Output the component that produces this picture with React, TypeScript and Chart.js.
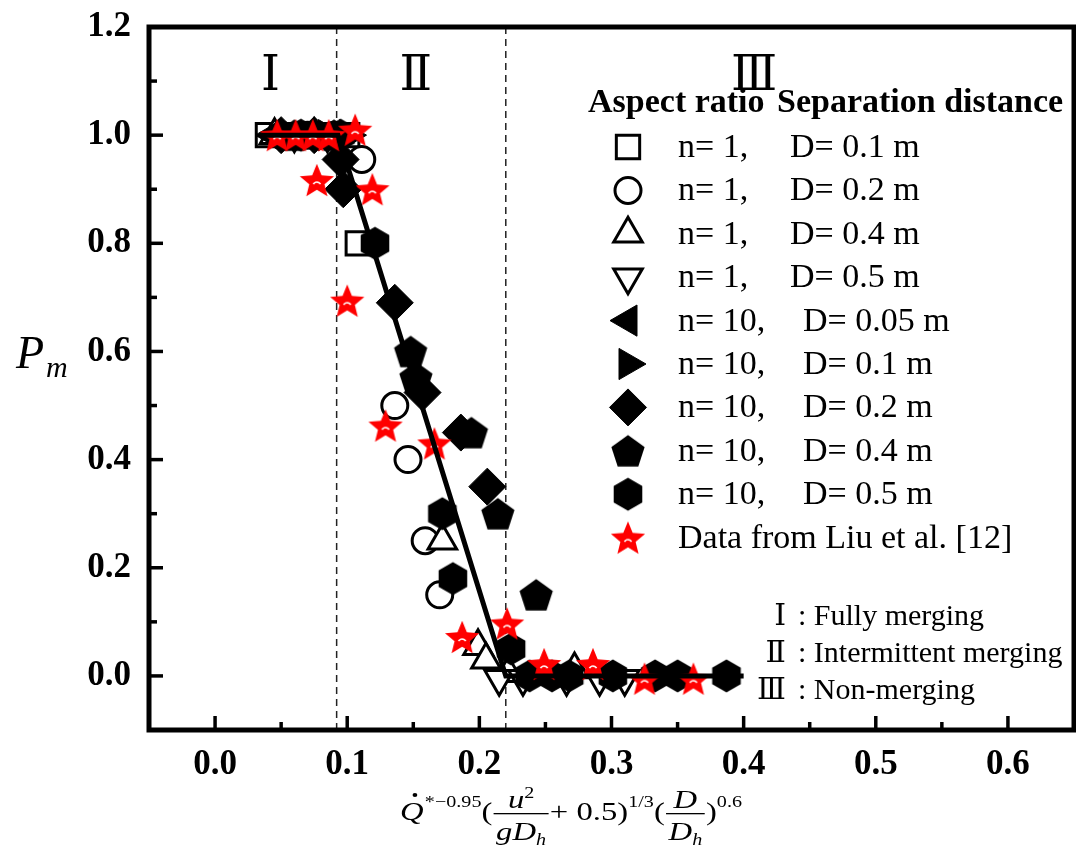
import React, { useEffect, useRef } from 'react';
import { Chart, registerables } from 'chart.js';
import { drawPoint } from 'chart.js/helpers';

Chart.register(...registerables);

const SERIF = "'Liberation Serif', 'Times New Roman', serif";
const NUMERAL_FONT = "'Liberation Serif', 'DejaVu Serif', serif";

// ---------- axis ticks ----------
const xMajorTicks = [0, 0.1, 0.2, 0.3, 0.4, 0.5, 0.6];
const xMinorTicks = [0.05, 0.15, 0.25, 0.35, 0.45, 0.55];
const yMajorTicks = [0, 0.2, 0.4, 0.6, 0.8, 1.0, 1.2];
const yMinorTicks = [0.1, 0.3, 0.5, 0.7, 0.9, 1.1];

// ---------- regime boundaries and labels ----------
const regionBoundaries = [0.092, 0.22];
const regionLabels = ['Ⅰ', 'Ⅱ', 'Ⅲ'];
const regionLabelX = [0.042, 0.152, 0.408];
const regionNotes = [': Fully merging', ': Intermittent merging', ': Non-merging'];

// ---------- series (x, Pm) ----------
// n = 1, D = 0.1 m (open square)
const sqX = [0.04, 0.06, 0.08, 0.1, 0.108];
const sqY = [1, 1, 1, 1, 0.8];
// n = 1, D = 0.2 m (open circle)
const ciX = [0.05, 0.07, 0.09, 0.111, 0.136, 0.146, 0.159, 0.17];
const ciY = [1, 1, 1, 0.955, 0.5, 0.4, 0.25, 0.15];
// n = 1, D = 0.4 m (open up-triangle)
const upX = [0.045, 0.075, 0.172, 0.199, 0.205, 0.222, 0.272];
const upY = [1, 1, 0.25, 0.055, 0.03, 0.005, 0.012];
// n = 1, D = 0.5 m (open down-triangle)
const dnX = [0.06, 0.085, 0.215, 0.233, 0.266, 0.291, 0.31];
const dnY = [1, 1, -0.005, -0.005, -0.005, -0.005, -0.005];
// n = 10, D = 0.05 m (left triangle)
const ltX = [0.044, 0.07];
const ltY = [1, 1];
// n = 10, D = 0.1 m (right triangle)
const rtX = [0.055, 0.085, 0.101];
const rtY = [1, 1, 1];
// n = 10, D = 0.2 m (diamond)
const dmX = [0.05, 0.075, 0.095, 0.097, 0.136, 0.157, 0.186, 0.206];
const dmY = [1, 1, 0.955, 0.9, 0.69, 0.524, 0.45, 0.35];
// n = 10, D = 0.4 m (pentagon)
const pgX = [0.06, 0.09, 0.148, 0.152, 0.194, 0.214, 0.243];
const pgY = [1, 1, 0.6, 0.552, 0.45, 0.3, 0.15];
// n = 10, D = 0.5 m (hexagon)
const hxX = [0.065, 0.095, 0.121, 0.172, 0.18, 0.224, 0.238, 0.255, 0.268, 0.301, 0.333, 0.35, 0.387];
const hxY = [1, 1, 0.8, 0.3, 0.18, 0.05, 0, 0, 0, 0, 0, 0, 0];
// Data from Liu et al. [12] (red star)
const liuX = [0.047, 0.061, 0.074, 0.086, 0.106, 0.077, 0.119, 0.1, 0.129, 0.166, 0.187, 0.221, 0.249, 0.286, 0.325, 0.362];
const liuY = [1, 1, 1, 1, 1.01, 0.917, 0.9, 0.694, 0.463, 0.43, 0.072, 0.097, 0.022, 0.022, -0.005, -0.005];
// piecewise fit
const fitX = [0.035, 0.093, 0.22, 0.4];
const fitY = [1, 1, 0, 0];

// legend texts
const legendAspect = ['n= 1,', 'n= 1,', 'n= 1,', 'n= 1,', 'n= 10,', 'n= 10,', 'n= 10,', 'n= 10,', 'n= 10,'];
const legendDist = ['D= 0.1 m', 'D= 0.2 m', 'D= 0.4 m', 'D= 0.5 m', 'D= 0.05 m', 'D= 0.1 m', 'D= 0.2 m', 'D= 0.4 m', 'D= 0.5 m'];
const legendLiu = 'Data from Liu et al. [12]';

function makeShape(kind: string): HTMLCanvasElement {
  const S = 44;
  const c = document.createElement('canvas');
  c.width = S;
  c.height = S;
  const g = c.getContext('2d') as CanvasRenderingContext2D;
  const cx = S / 2;
  const cy = S / 2;
  g.beginPath();
  if (kind === 'pentagon') {
    const R = 17.5;
    const off = (R * (1 - Math.cos(Math.PI / 5))) / 2;
    for (let i = 0; i < 5; i++) {
      const a = -Math.PI / 2 + (i * 2 * Math.PI) / 5;
      const px = cx + R * Math.cos(a);
      const py = cy + off + R * Math.sin(a);
      if (i === 0) g.moveTo(px, py);
      else g.lineTo(px, py);
    }
    g.fillStyle = '#000';
  } else if (kind === 'hexagon') {
    const R = 16.5;
    for (let i = 0; i < 6; i++) {
      const a = -Math.PI / 2 + (i * Math.PI) / 3;
      const px = cx + R * Math.cos(a);
      const py = cy + R * Math.sin(a);
      if (i === 0) g.moveTo(px, py);
      else g.lineTo(px, py);
    }
    g.fillStyle = '#000';
  } else {
    const R = 18;
    const r = 8;
    const off = (R * (1 - Math.cos(Math.PI / 5))) / 2;
    for (let i = 0; i < 10; i++) {
      const a = -Math.PI / 2 + (i * Math.PI) / 5;
      const rad = i % 2 === 0 ? R : r;
      const px = cx + rad * Math.cos(a);
      const py = cy + off + rad * Math.sin(a);
      if (i === 0) g.moveTo(px, py);
      else g.lineTo(px, py);
    }
    g.fillStyle = '#ff0000';
  }
  g.closePath();
  g.fill();
  if (kind === 'star') {
    g.strokeStyle = '#fff';
    g.lineWidth = 1.6;
    g.beginPath();
    g.arc(cx, cy + 6, 4, Math.PI * 1.15, Math.PI * 1.85);
    g.stroke();
  }
  return c;
}

function drawFormula(ctx: CanvasRenderingContext2D, left: number, targetW: number, B: number) {
  const fI = `italic 26px ${SERIF}`;
  const fR = `26px ${SERIF}`;
  const fS = `16px ${SERIF}`;
  const fSI = `italic 16px ${SERIF}`;
  type Run = { t: string; f: string; dy: number; gap?: number };
  const w = (r: Run[]) => {
    let s = 0;
    r.forEach((p) => {
      ctx.font = p.f;
      s += ctx.measureText(p.t).width + (p.gap || 0);
    });
    return s;
  };
  const drawRun = (r: Run[], x: number, y: number) => {
    let cx = x;
    r.forEach((p) => {
      ctx.font = p.f;
      ctx.fillText(p.t, cx, y + p.dy);
      cx += ctx.measureText(p.t).width + (p.gap || 0);
    });
  };
  type Item = { kind: 'run'; run: Run[] } | { kind: 'frac'; num: Run[]; den: Run[] } | { kind: 'Q' };
  const items: Item[] = [
    { kind: 'Q' },
    { kind: 'run', run: [{ t: '*−0.95', f: fS, dy: -13 }] },
    { kind: 'run', run: [{ t: '(', f: fR, dy: 0 }] },
    {
      kind: 'frac',
      num: [
        { t: 'u', f: fI, dy: 0 },
        { t: '2', f: fS, dy: -10 },
      ],
      den: [
        { t: 'g', f: fI, dy: 0 },
        { t: 'D', f: fI, dy: 0 },
        { t: 'h', f: fSI, dy: 5 },
      ],
    },
    { kind: 'run', run: [{ t: '+ 0.5)', f: fR, dy: 0 }] },
    { kind: 'run', run: [{ t: '1/3', f: fS, dy: -13 }] },
    { kind: 'run', run: [{ t: '(', f: fR, dy: 0 }] },
    {
      kind: 'frac',
      num: [{ t: 'D', f: fI, dy: 0 }],
      den: [
        { t: 'D', f: fI, dy: 0 },
        { t: 'h', f: fSI, dy: 5 },
      ],
    },
    { kind: 'run', run: [{ t: ')', f: fR, dy: 0 }] },
    { kind: 'run', run: [{ t: '0.6', f: fS, dy: -13 }] },
  ];
  const widths = items.map((it) => {
    if (it.kind === 'Q') {
      ctx.font = fI;
      return ctx.measureText('Q').width + 1;
    }
    if (it.kind === 'run') return w(it.run);
    return Math.max(w(it.num), w(it.den)) + 6;
  });
  const total = widths.reduce((a, b) => a + b, 0);
  ctx.save();
  ctx.translate(left, 0);
  ctx.scale(targetW / total, 1);
  ctx.textAlign = 'left';
  ctx.textBaseline = 'alphabetic';
  let x = 0;
  items.forEach((it, i) => {
    const iw = widths[i];
    if (it.kind === 'Q') {
      ctx.font = fI;
      ctx.fillText('Q', x, B);
      ctx.beginPath();
      ctx.arc(x + iw / 2 + 2, B - 25, 1.9, 0, Math.PI * 2);
      ctx.fill();
    } else if (it.kind === 'run') {
      drawRun(it.run, x, B);
    } else {
      const nw = w(it.num);
      const dw = w(it.den);
      drawRun(it.num, x + (iw - nw) / 2, B - 12);
      drawRun(it.den, x + (iw - dw) / 2, B + 20);
      ctx.fillRect(x + 1, B - 7, iw - 2, 1.3);
    }
    x += iw;
  });
  ctx.restore();
}

export default function App() {
  const ref = useRef<HTMLCanvasElement>(null);

  useEffect(() => {
    document.body.style.margin = '0';
    document.body.style.overflow = 'hidden';
    const canvas = ref.current as HTMLCanvasElement;
    const pentagon = makeShape('pentagon');
    const hexagon = makeShape('hexagon');
    const star = makeShape('star');
    const pts = (xs: number[], ys: number[]) => xs.map((x, i) => ({ x, y: ys[i] }));

    const markerSeries = [
      { data: pts(sqX, sqY), style: 'rect', rot: 0, r: 16.5, bg: '#fff', bw: 3 },
      { data: pts(ciX, ciY), style: 'circle', rot: 0, r: 13, bg: '#fff', bw: 3 },
      { data: pts(upX, upY), style: 'triangle', rot: 0, r: 16.5, bg: '#fff', bw: 3 },
      { data: pts(dnX, dnY), style: 'triangle', rot: 180, r: 16.5, bg: '#fff', bw: 3 },
      { data: pts(ltX, ltY), style: 'triangle', rot: 270, r: 18, bg: '#000', bw: 1 },
      { data: pts(rtX, rtY), style: 'triangle', rot: 90, r: 18, bg: '#000', bw: 1 },
      { data: pts(dmX, dmY), style: 'rectRot', rot: 0, r: 18.5, bg: '#000', bw: 1 },
      { data: pts(pgX, pgY), style: pentagon as any, rot: 0, r: 17, bg: '#000', bw: 0 },
      { data: pts(hxX, hxY), style: hexagon as any, rot: 0, r: 17, bg: '#000', bw: 0 },
      { data: pts(liuX, liuY), style: star as any, rot: 0, r: 17, bg: '#f00', bw: 0 },
    ];

    const datasets: any[] = [];
    regionBoundaries.forEach((b) => {
      datasets.push({
        data: [
          { x: b, y: -0.1 },
          { x: b, y: 1.2 },
        ],
        showLine: true,
        borderColor: '#222',
        borderWidth: 1.5,
        borderDash: [7, 5],
        pointRadius: 0,
        order: 100,
      });
    });
    markerSeries.forEach((s, i) => {
      datasets.push({
        data: s.data,
        pointStyle: s.style,
        rotation: s.rot,
        pointRadius: s.r,
        backgroundColor: s.bg,
        borderColor: '#000',
        borderWidth: s.bw,
        order: 50 - i,
      });
    });
    datasets.push({
      data: pts(fitX, fitY),
      showLine: true,
      borderColor: '#000',
      borderWidth: 5,
      pointRadius: 0,
      order: -1,
    });

    const tickFont = { family: SERIF, size: 35, weight: 'bold' as const };
    const zeroPad = (s: any) => {
      s.paddingTop = 0;
      s.paddingBottom = 0;
      s.paddingLeft = 0;
      s.paddingRight = 0;
    };

    const decor = {
      id: 'decor',
      afterDraw(chart: any) {
        const ctx: CanvasRenderingContext2D = chart.ctx;
        const a = chart.chartArea;
        const xs = chart.scales.x;
        const ys = chart.scales.y;
        ctx.save();
        // frame
        ctx.strokeStyle = '#000';
        ctx.lineWidth = 5;
        ctx.strokeRect(a.left, a.top, a.right - a.left, a.bottom - a.top);
        // inward ticks
        ctx.lineWidth = 3.5;
        const seg = (x1: number, y1: number, x2: number, y2: number) => {
          ctx.beginPath();
          ctx.moveTo(x1, y1);
          ctx.lineTo(x2, y2);
          ctx.stroke();
        };
        xMajorTicks.forEach((v) => {
          const p = xs.getPixelForValue(v);
          seg(p, a.bottom, p, a.bottom - 14);
        });
        xMinorTicks.forEach((v) => {
          const p = xs.getPixelForValue(v);
          seg(p, a.bottom, p, a.bottom - 8);
        });
        yMajorTicks.forEach((v) => {
          const p = ys.getPixelForValue(v);
          seg(a.left, p, a.left + 14, p);
        });
        yMinorTicks.forEach((v) => {
          const p = ys.getPixelForValue(v);
          seg(a.left, p, a.left + 8, p);
        });

        ctx.fillStyle = '#000';
        ctx.textBaseline = 'alphabetic';
        // regime numerals
        ctx.font = `48px ${NUMERAL_FONT}`;
        ctx.textAlign = 'center';
        regionLabels.forEach((t, i) => {
          ctx.fillText(t, xs.getPixelForValue(regionLabelX[i]), 90);
        });

        // legend
        ctx.textAlign = 'left';
        ctx.font = `bold 34px ${SERIF}`;
        ctx.fillText('Aspect ratio', 588, 112);
        ctx.fillText('Separation distance', 777, 112);
        const rowY = (i: number) => 157 + i * 43.4;
        const markerX = 628;
        markerSeries.forEach((s, i) => {
          const by = rowY(i);
          const cy = by - 10;
          ctx.save();
          ctx.fillStyle = s.bg;
          ctx.strokeStyle = '#000';
          ctx.lineWidth = s.bw;
          drawPoint(ctx, { pointStyle: s.style, rotation: s.rot, radius: s.r, borderWidth: s.bw } as any, markerX, cy);
          ctx.restore();
          ctx.fillStyle = '#000';
          ctx.font = `34px ${SERIF}`;
          if (i < legendAspect.length) {
            ctx.fillText(legendAspect[i], 678, by);
            ctx.fillText(legendDist[i], i < 4 ? 790 : 803, by);
          } else {
            ctx.fillText(legendLiu, 678, by);
          }
        });

        // regime notes (bottom right)
        const noteY = [625, 662, 699];
        regionLabels.forEach((t, i) => {
          ctx.textAlign = 'right';
          ctx.font = `30px ${NUMERAL_FONT}`;
          ctx.fillText(t, 786, noteY[i]);
          ctx.textAlign = 'left';
          ctx.font = `30px ${SERIF}`;
          ctx.fillText(regionNotes[i], 798, noteY[i]);
        });

        // y title P_m
        ctx.textAlign = 'left';
        ctx.font = `italic 46px ${SERIF}`;
        ctx.fillText('P', 16, 368);
        ctx.font = `italic 30px ${SERIF}`;
        ctx.fillText('m', 46, 377);

        // x title formula
        drawFormula(ctx, 400, 342, 820);
        ctx.restore();
      },
    };

    const chart = new Chart(canvas, {
      type: 'scatter',
      data: { datasets },
      options: {
        animation: false,
        responsive: false,
        events: [],
        layout: { autoPadding: false, padding: { top: 27, right: 2, left: 0, bottom: 0 } },
        plugins: { legend: { display: false }, tooltip: { enabled: false } },
        scales: {
          x: {
            type: 'linear',
            min: -0.05,
            max: 0.65,
            afterBuildTicks: (s: any) => {
              s.ticks = xMajorTicks.map((v) => ({ value: v }));
            },
            afterFit: (s: any) => {
              s.height = 117;
              zeroPad(s);
            },
            grid: { display: false, drawTicks: false, tickLength: 0 },
            border: { display: false },
            ticks: {
              font: tickFont,
              color: '#000',
              padding: 14,
              autoSkip: false,
              maxRotation: 0,
              callback: (v: any) => Number(v).toFixed(1),
            },
          },
          y: {
            type: 'linear',
            min: -0.1,
            max: 1.2,
            afterBuildTicks: (s: any) => {
              s.ticks = yMajorTicks.map((v) => ({ value: v }));
            },
            afterFit: (s: any) => {
              s.width = 149;
              zeroPad(s);
            },
            grid: { display: false, drawTicks: false, tickLength: 0 },
            border: { display: false },
            ticks: {
              font: tickFont,
              color: '#000',
              padding: 18,
              autoSkip: false,
              callback: (v: any) => Number(v).toFixed(1),
            },
          },
        },
      },
      plugins: [decor],
    } as any);

    return () => chart.destroy();
  }, []);

  return (
    <div style={{ width: 1076, height: 847, background: '#fff' }}>
      <canvas ref={ref} width={1076} height={847} style={{ display: 'block' }} />
    </div>
  );
}
